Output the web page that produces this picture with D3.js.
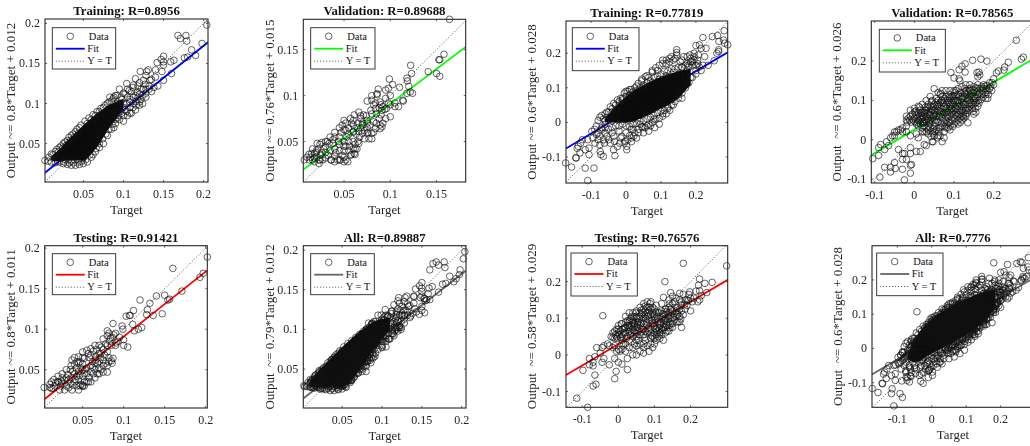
<!DOCTYPE html>
<html><head><meta charset="utf-8">
<script src="https://cdn.jsdelivr.net/npm/d3@7"></script>
<style>html,body{margin:0;padding:0;background:#fff;overflow:hidden}svg{display:block;filter:blur(0.35px)}text{font-family:"Liberation Serif","Times New Roman",serif}</style>
</head><body><svg id="c" width="1030" height="446"></svg>
<script>
const titles=["Training: R=0.8956","Validation: R=0.89688","Training: R=0.77819","Validation: R=0.78565","Testing: R=0.91421","All: R=0.89887","Testing: R=0.76576","All: R=0.7776"];
const yLabels=["Output ~= 0.8*Target + 0.012","Output ~= 0.76*Target + 0.015","Output ~= 0.6*Target + 0.028","Output  ~= 0.6*Target + 0.026","Output ~= 0.8*Target + 0.011","Output  ~= 0.79*Target + 0.012","Output  ~= 0.58*Target + 0.029","Output  ~= 0.6*Target + 0.028"];
const slopes=[0.8,0.76,0.6,0.6,0.8,0.79,0.58,0.6];
const intercepts=[0.012,0.015,0.028,0.026,0.011,0.012,0.029,0.028];
const fitColors=["#0000ff","#00ff00","#0000ff","#00ff00","#ff0000","#666666","#ff0000","#666666"];
const xTicks=[[0.05,0.1,0.15,0.2],[0.05,0.1,0.15],[-0.1,0,0.1,0.2],[-0.1,0,0.1,0.2],[0.05,0.1,0.15,0.2],[0.05,0.1,0.15,0.2],[-0.1,0,0.1,0.2],[-0.1,0,0.1,0.2]];
const yTicks=xTicks;
const xDomains=[[0.0021,0.2055],[0.006,0.1815],[-0.172,0.291],[-0.1086,0.3],[0.0037,0.202],[0.0012,0.2054],[-0.145,0.303],[-0.1735,0.297]];
const yDomains=[[0.0021,0.2055],[0.006,0.183],[-0.175,0.293],[-0.11,0.302],[0.0028,0.203],[0.001,0.2055],[-0.143,0.298],[-0.172,0.3]];

const train1=[[.204,.198],[.168,.185],[.171,.181],[.178,.185],[.179,.178],[.198,.175],[.185,.167],[.176,.157],[.18,.158],[.19,.16],[.15,.159],[.147,.155],[.15,.152],[.142,.151],[.159,.152],[.163,.154],[.15,.148],[.148,.14],[.16,.1375],[.15,.129],[.14,.142],[.131,.142],[.121,.14],[.129,.14],[.115,.131],[.133,.129],[.125,.129],[.14,.133],[.104,.125],[.1125,.123],[.12,.126],[.135,.13],[.128,.135],[.143,.122],[.135,.115],[.132,.122],[.125,.118],[.118,.122],[.11,.115],[.105,.118],[.1,.113],[.095,.118],[.088,.108],[.083,.108],[.09,.11],[.098,.105],[.105,.108],[.115,.11],[.122,.105],[.128,.108],[.108,.095],[.115,.092],[.105,.085],[.112,.1],[.098,.088],[.095,.08],[.09,.075],[.088,.07],[.085,.068],[.08,.06],[.075,.05],[.07,.045],[.065,.04],[.06,.033],[.055,.027],[.05,.025],[.045,.024],[.04,.023],[.035,.023],[.03,.024],[.025,.025],[.02,.027],[.015,.026],[.01,.027],[.006,.028],[.002,.029],[.007,.033],[.01,.037],[.015,.04],[.02,.045],[.025,.05],[.03,.054],[.035,.06],[.04,.065],[.045,.07],[.055,.075],[.06,.08],[.065,.085],[.07,.09],[.075,.095],[.08,.1],[.085,.103],[.092,.1],[.1,.1],[.102,.092],[.095,.095],[.09,.09],[.085,.085],[.08,.075],[.075,.07],[.078,.088],[.072,.082],[.068,.076],[.065,.062],[.07,.06],[.06,.055],[.058,.045],[.052,.04],[.05,.032],[.042,.03],[.035,.028],[.028,.03],[.02,.033],[.014,.032],[.108,.102],[.118,.108],[.11,.088],[.1,.078],[.128,.113],[.138,.12],[.12,.098],[.092,.082]];
const train1Dense=[[.012,.036],[.017,.043],[.022,.047],[.027,.052],[.032,.058],[.037,.062],[.042,.068],[.047,.073],[.052,.078],[.057,.082],[.062,.086],[.067,.09],[.072,.094],[.077,.098],[.082,.102],[.087,.106],[.092,.11],[.097,.108],[.102,.112],[.107,.116],[.112,.12],[.117,.114],[.122,.118],[.127,.124],[.132,.118],[.092,.095],[.096,.1],[.1,.095],[.104,.1],[.108,.105],[.112,.108],[.116,.103],[.12,.112],[.124,.11],[.128,.118],[.096,.09],[.1,.085],[.104,.09],[.108,.088],[.112,.095],[.116,.098],[.12,.102],[.124,.1],[.094,.085],[.09,.085],[.086,.08],[.088,.095],[.084,.095],[.062,.036],[.066,.044],[.07,.05],[.074,.056],[.078,.062],[.082,.068],[.086,.074],[.09,.08],[.018,.028],[.026,.027],[.032,.026],[.038,.026],[.044,.027],[.048,.028],[.053,.03],[.058,.036],[.063,.047],[.068,.052],[.073,.063],[.077,.075],[.071,.086],[.066,.08],[.061,.075],[.056,.07],[.05,.066],[.044,.063],[.039,.058],[.034,.054],[.029,.048],[.024,.044],[.019,.04]];
const valid1=[[.164,.183],[.158,.145],[.1525,.139],[.1535,.139],[.141,.126],[.15,.124],[.1535,.121],[.122,.133],[.123,.124],[.118,.119],[.1185,.116],[.099,.118],[.1025,.112],[.098,.108],[.095,.106],[.11,.109],[.12,.11],[.1215,.104],[.124,.1025],[.118,.1025],[.1135,.095],[.109,.088],[.105,.092],[.1,.077],[.087,.107],[.086,.101],[.0855,.102],[.08,.1],[.075,.094],[.08,.095],[.084,.092],[.089,.093],[.095,.097],[.098,.092],[.096,.086],[.091,.084],[.084,.086],[.079,.084],[.066,.082],[.061,.079],[.057,.075],[.05,.073],[.071,.079],[.068,.075],[.075,.073],[.082,.0715],[.089,.068],[.091,.066],[.089,.064],[.084,.064],[.08,.059],[.077,.053],[.08,.053],[.075,.059],[.07,.059],[.066,.061],[.063,.058],[.064,.042],[.062,.042],[.061,.037],[.057,.035],[.054,.028],[.046,.03],[.043,.03],[.04,.034],[.03,.032],[.023,.03],[.007,.03],[.0125,.03],[.018,.032],[.023,.026],[.01,.033],[.015,.037],[.02,.04],[.024,.047],[.03,.045],[.035,.055],[.04,.06],[.045,.055],[.05,.063],[.055,.065],[.06,.068],[.065,.07],[.07,.068],[.075,.065],[.05,.05],[.055,.05],[.06,.05],[.045,.047],[.05,.04],[.055,.04],[.06,.042],[.045,.04],[.04,.042],[.035,.04],[.03,.038],[.025,.035],[.02,.033],[.018,.037],[.014,.033],[.05,.033],[.045,.03],[.055,.058],[.045,.065],[.06,.061],[.038,.048],[.032,.05],[.026,.049],[.021,.048],[.027,.03],[.036,.03],[.016,.042],[.067,.055],[.072,.053],[.085,.08],[.09,.079],[.094,.085],[.1,.09],[.105,.088],[.114,.094],[.092,.07],[.068,.078],[.075,.07],[.08,.08],[.06,.073],[.052,.062]];
const valid1Dense=[[.012,.036],[.016,.03],[.02,.038],[.022,.042],[.026,.038],[.03,.05],[.033,.035],[.036,.03],[.038,.052],[.041,.038],[.044,.05],[.047,.06],[.048,.035],[.05,.045],[.052,.03],[.053,.055],[.056,.045],[.058,.036],[.06,.06],[.062,.047],[.064,.065],[.065,.05],[.068,.065],[.07,.07],[.072,.062],[.074,.078],[.076,.06],[.078,.068],[.082,.06],[.085,.07],[.088,.075],[.09,.09],[.092,.088],[.082,.09],[.088,.087],[.1,.1],[.095,.075],[.058,.07],[.052,.07],[.048,.068],[.04,.055],[.034,.048],[.028,.042],[.024,.03],[.018,.028],[.04,.028],[.05,.028],[.052,.045],[.062,.036],[.066,.048]];
const test1=[[.202,.189],[.16,.175],[.197,.169],[.193,.164],[.171,.147],[.15,.142],[.14,.141],[.132,.132],[.12,.136],[.129,.124],[.156,.137],[.154,.136],[.147,.119],[.128,.118],[.136,.117],[.112,.123],[.107,.117],[.103,.116],[.108,.117],[.111,.106],[.122,.102],[.118,.1],[.113,.098],[.098,.104],[.099,.1],[.087,.107],[.08,.098],[.08,.092],[.084,.089],[.075,.088],[.088,.093],[.1,.087],[.095,.09],[.091,.083],[.105,.078],[.1,.08],[.09,.08],[.085,.08],[.08,.08],[.075,.075],[.07,.08],[.065,.08],[.06,.076],[.055,.074],[.05,.072],[.045,.066],[.037,.062],[.05,.065],[.06,.068],[.07,.07],[.08,.072],[.087,.064],[.085,.061],[.082,.06],[.08,.055],[.075,.055],[.07,.06],[.065,.058],[.06,.055],[.05,.057],[.043,.06],[.04,.057],[.035,.05],[.03,.05],[.025,.045],[.02,.042],[.015,.038],[.012,.035],[.01,.032],[.012,.027],[.003,.028],[.01,.028],[.016,.03],[.022,.025],[.037,.025],[.045,.025],[.05,.03],[.048,.032],[.052,.035],[.06,.035],[.065,.04],[.07,.045],[.075,.047],[.065,.05],[.06,.048],[.055,.045],[.05,.042],[.045,.038],[.04,.035],[.035,.033],[.03,.03],[.025,.033],[.02,.035],[.025,.04],[.03,.04],[.04,.045],[.045,.048],[.055,.052],[.033,.038],[.038,.031],[.07,.052],[.08,.047],[.075,.062],[.066,.066],[.072,.065]];
const test1Dense=[[.02,.035],[.023,.03],[.028,.037],[.032,.044],[.036,.04],[.042,.052],[.047,.06],[.052,.064],[.057,.07],[.062,.06],[.067,.075],[.072,.07],[.077,.068],[.082,.065],[.086,.058],[.078,.058],[.072,.05],[.068,.045],[.063,.045],[.058,.04],[.053,.05],[.048,.052],[.043,.042],[.038,.048],[.033,.028],[.028,.025],[.043,.03],[.047,.03],[.05,.03],[.052,.03],[.055,.035],[.062,.053],[.066,.062],[.05,.05],[.04,.065],[.045,.058],[.058,.065],[.063,.073],[.068,.058],[.073,.078],[.078,.082],[.083,.085],[.09,.095],[.093,.085],[.086,.09],[.082,.095],[.052,.045],[.057,.035],[.024,.036],[.017,.034],[.014,.027],[.046,.043],[.036,.055],[.041,.038]];
const train2=[[-.173,-.117],[-.156,-.129],[-.117,-.132],[-.092,-.132],[-.11,-.168],[-.143,-.103],[-.144,-.102],[-.137,-.069],[-.132,-.088],[-.117,-.079],[-.106,-.074],[-.106,-.093],[-.089,-.06],[-.098,-.026],[-.072,-.093],[-.065,-.098],[-.074,-.084],[-.036,-.079],[-.032,-.096],[-.062,-.06],[-.05,-.05],[-.033,-.055],[.002,-.079],[.002,-.069],[.016,-.055],[-.003,-.055],[-.018,-.06],[-.012,-.04],[.022,-.04],[.03,-.045],[.01,-.038],[.035,-.03],[.05,-.03],[.065,-.025],[.048,-.015],[.07,-.01],[.082,-.015],[.095,-.005],[-.13,-.06],[-.125,-.05],[-.14,-.075],[-.11,-.05],[-.085,-.035],[-.07,-.02],[-.06,-.005],[-.055,.015],[-.04,.03],[-.03,.035],[-.02,.05],[-.01,.07],[0,.09],[.01,.095],[.03,.105],[.045,.12],[.06,.135],[.075,.145],[.09,.15],[.105,.18],[.115,.17],[.13,.19],[.145,.21],[.145,.202],[.125,.175],[.14,.185],[.16,.18],[.175,.19],[.185,.185],[.195,.2],[.281,.265],[.262,.251],[.247,.248],[.22,.245],[.266,.234],[.279,.238],[.291,.224],[.282,.229],[.265,.21],[.265,.205],[.26,.2],[.252,.178],[.229,.214],[.215,.214],[.2,.222],[.21,.224],[.207,.195],[.183,.195],[.195,.19],[.225,.19],[.22,.165],[.235,.165],[.215,.15],[.205,.17],[.2,.15],[.19,.165],[.185,.13],[.175,.11],[.16,.07],[.15,.08],[.135,.05],[.12,.04],[.105,.025],[.08,.01],[.06,-.01],[.04,-.005],[.02,-.02],[0,-.03],[-.02,-.025],[-.04,-.03],[-.06,-.03],[-.08,-.05],[-.095,-.045],[-.075,-.065],[.015,-.02],[.12,.13],[.16,.16],[.17,.12],[.18,.16],[.17,.14],[.145,.1],[.135,.075]];
const train2Dense=[[-.08,.005],[-.075,.015],[-.07,.02],[-.065,.01],[-.06,.025],[-.055,.03],[-.05,.03],[-.045,.045],[-.04,.04],[-.035,.055],[-.03,.05],[-.025,.065],[-.02,.06],[-.015,.07],[-.01,.065],[-.005,.085],[0,.075],[.005,.09],[.01,.08],[.015,.095],[.02,.088],[.025,.1],[.03,.092],[.035,.113],[.04,.1],[.045,.125],[.05,.108],[.055,.132],[.06,.115],[.065,.13],[.07,.12],[.075,.15],[.08,.13],[.085,.158],[.09,.135],[.095,.165],[.1,.14],[.105,.17],[.11,.148],[.115,.18],[.12,.15],[.125,.185],[.13,.155],[.135,.18],[.14,.155],[.145,.195],[.15,.16],[.155,.175],[.16,.16],[.165,.19],[.17,.165],[.175,.17],[.18,.165],[.185,.175],[.19,.175],[.195,.18],[.2,.165],[.205,.18],[-.09,-.02],[-.085,-.01],[-.08,-.03],[-.075,-.04],[-.07,-.015],[-.065,-.05],[-.06,-.015],[-.055,-.04],[-.05,-.02],[-.045,-.06],[-.04,-.015],[-.035,-.04],[-.03,-.01],[-.025,-.07],[-.02,-.01],[-.015,-.045],[-.01,-.005],[-.005,-.06],[0,-.01],[.005,-.05],[.01,-.012],[.015,-.045],[.02,-.005],[.025,-.03],[.03,-.002],[.035,-.02],[.04,.003],[.045,-.012],[.05,.005],[.055,-.015],[.06,.01],[.065,-.005],[.07,.015],[.075,0],[.08,.02],[.085,.008],[.09,.028],[.095,.012],[.1,.032],[.105,.018],[.11,.035],[.115,.025],[.12,.045],[.125,.035],[.13,.05],[.14,.06],[.15,.07],[.16,.085],[.17,.1],[.18,.115],[.19,.13],[.2,.14],[.21,.16],[-.06,.005],[-.05,.01],[-.04,.005],[-.03,.02],[-.02,.015],[-.01,.03],[.02,.01],[.04,.02],[.06,.03],[.08,.04],[.1,.055],[.12,.065],[.14,.08],[.16,.1],[.17,.125],[.155,.14],[.135,.145],[.115,.135],[.095,.125],[.075,.115],[.055,.105],[.035,.09],[.015,.075]];
const valid2=[[.257,.253],[.27,.205],[.275,.21],[.228,.185],[.237,.197],[.226,.177],[.212,.175],[.207,.17],[.2,.155],[.183,.2],[.168,.205],[.147,.202],[.128,.193],[.12,.187],[.092,.171],[.113,.178],[.128,.172],[.158,.171],[.163,.172],[.165,.165],[.16,.16],[.1,.157],[.113,.155],[.115,.15],[.13,.14],[.14,.14],[.15,.135],[.16,.14],[.175,.14],[.19,.145],[.2,.14],[.195,.125],[.185,.125],[.18,.115],[.185,.105],[.17,.115],[.16,.115],[.15,.125],[.14,.125],[.13,.125],[.12,.135],[.11,.13],[.1,.125],[.09,.125],[.08,.125],[.07,.125],[.06,.12],[.05,.13],[.04,.11],[.03,.1],[.02,.09],[.01,.085],[0,.08],[-.01,.06],[-.02,.05],[.01,.065],[.02,.07],[.03,.075],[.04,.085],[.05,.09],[.06,.1],[.07,.11],[.08,.11],[.09,.105],[.1,.11],[.11,.115],[.12,.11],[.13,.105],[.14,.1],[.15,.1],[.16,.085],[.155,.07],[.15,.065],[.135,.08],[.13,.06],[.125,.09],[.11,.085],[.1,.09],[.09,.085],[.08,.09],[.07,.095],[.06,.085],[.05,.075],[.04,.07],[.03,.06],[.02,.055],[.01,.05],[0,.055],[.015,.04],[.025,.045],[.035,.05],[.045,.055],[.055,.06],[.065,.065],[.075,.07],[.085,.07],[.095,.065],[.105,.07],[.115,.065],[.125,.07],[.135,.043],[.11,.05],[.1,.055],[.09,.045],[.08,.05],[.07,.055],[.06,.045],[.05,.035],[.04,.03],[.03,.03],[.02,.02],[.08,.03],[.09,.025],[.075,.02],[.065,.01],[.07,-.005],[.075,.005],[.06,.01],[.047,.015],[.047,-.005],[.045,-.005],[.03,-.015],[.025,-.012],[.015,-.03],[.005,-.03],[-.01,-.02],[-.01,-.035],[-.025,-.035],[-.03,-.035],[-.04,-.025],[-.03,-.05],[-.02,-.05],[-.01,-.065],[-.007,-.063],[-.05,-.058],[-.06,-.07],[-.075,-.07],[-.048,-.073],[-.03,-.075],[-.06,-.082],[-.01,-.085],[-.087,-.095],[-.025,-.102],[-.105,-.048],[-.09,-.04],[-.09,-.02],[-.085,-.012],[-.075,-.025],[-.065,-.015],[-.07,-.005],[-.06,.005],[-.05,.01],[-.045,.02],[-.04,.025],[-.03,.03],[-.02,.02],[-.01,.01],[.005,.015],[.01,.005],[.02,.03],[.03,.02],[.04,.04],[.05,.05],[.015,.075],[.025,.065],[.035,.09],[.045,.1],[.055,.105],[.065,.115],[.105,.125],[.075,.1],[.085,.095],[.095,.095],[.1,.075],[.11,.1],[.12,.095],[.13,.09],[.14,.085],[.15,.09],[.1,.04],[.09,.06],[.12,.05]];
const valid2Dense=[[-.02,.06],[-.018,.045],[-.015,.055],[-.012,.05],[-.008,.045],[-.005,.065],[-.003,.05],[.002,.045],[.004,.062],[.007,.055],[.009,.07],[.012,.048],[.014,.06],[.017,.052],[.019,.068],[.022,.042],[.024,.058],[.027,.075],[.029,.05],[.032,.068],[.034,.055],[.037,.08],[.039,.045],[.042,.062],[.044,.075],[.047,.085],[.049,.06],[.052,.07],[.054,.095],[.057,.05],[.059,.075],[.062,.09],[.064,.06],[.067,.08],[.069,.1],[.072,.065],[.074,.085],[.077,.105],[.079,.06],[.082,.08],[.084,.1],[.087,.115],[.089,.075],[.092,.09],[.094,.11],[.097,.07],[.099,.1],[.102,.12],[.104,.08],[.107,.06],[.109,.095],[.112,.11],[.114,.075],[.117,.12],[.119,.085],[.122,.105],[.124,.06],[.127,.13],[.129,.08],[.132,.115],[.134,.1],[.137,.075],[.139,.13],[.142,.095],[.144,.11],[.147,.08],[.149,.12],[.152,.105],[.154,.08],[.157,.095],[.159,.13],[.162,.1],[.167,.13],[.172,.125],[.178,.12],[.182,.13],[.187,.115],[.192,.135],[.196,.145],[-.01,.075],[0,.07],[.005,.04],[.01,.035],[.02,.045],[.025,.07],[.03,.045],[.035,.035],[.04,.05],[.045,.075],[.05,.065],[.055,.08],[.06,.06],[.065,.095],[.07,.07],[.075,.045],[.08,.07],[.085,.055],[.09,.095],[.095,.08],[.1,.1],[.105,.1],[.11,.065],[.115,.085],[.12,.075],[.125,.11],[.13,.075],[.135,.105],[.14,.11],[.145,.09],[.15,.11],[.155,.105],[.16,.11],[.165,.12],[.17,.135],[.175,.13],[.18,.105],[.19,.13],[.025,.02],[.035,.015],[.045,.02],[.05,.01],[.055,.025],[.06,.03],[.065,.03],[.07,.035],[.08,.04],[.085,.03],[.09,.035],[.095,.05],[.105,.045],[.11,.04],[.115,.055],[.12,.06],[.125,.055],[.13,.065],[.035,.025],[.042,.008],[.052,.022],[.058,.005],[.062,.02],[-.02,.035],[-.03,.02],[-.035,.025],[-.05,.02],[-.055,.01]];
const valid2Loose=[[.003,.073],[.013,.083],[.023,.036],[.033,.083],[.043,.097],[.053,.043],[.063,.073],[.073,.093],[.083,.063],[.093,.078],[.103,.063],[.113,.093],[.123,.083],[.133,.068],[.143,.118],[.153,.093],[.163,.093],[.173,.108],[.183,.138],[.038,.064],[.048,.028],[.058,.088],[.068,.042],[.078,.078],[.088,.108],[.098,.112],[.108,.078],[.118,.102],[.128,.117],[.138,.092],[.148,.072],[.158,.122],[.168,.102],[.178,.136],[.008,.044],[.018,.062],[.028,.083],[.067,.118],[.077,.034],[.087,.043],[.097,.034],[.106,.114],[.116,.044],[.126,.122],[.136,.122],[.146,.128],[.156,.132]];
const test2=[[.18,.25],[.3,.243],[.129,.2],[-.043,.107],[.26,.198],[.225,.207],[.222,.19],[.24,.195],[.225,.175],[.215,.174],[.198,.172],[.245,.17],[.23,.162],[.225,.15],[.22,.145],[.2,.155],[.195,.165],[.18,.165],[.17,.168],[.145,.17],[.15,.16],[.125,.157],[.14,.15],[.16,.155],[.175,.145],[.19,.135],[.185,.125],[.17,.125],[.16,.13],[.15,.12],[.14,.13],[.13,.125],[.12,.14],[.11,.115],[.09,.145],[.08,.145],[.07,.14],[.085,.13],[.1,.125],[.075,.12],[.06,.13],[.05,.12],[.04,.115],[.03,.115],[.02,.105],[.01,.085],[0,.07],[-.01,.065],[-.005,.05],[-.015,.048],[-.01,.045],[0,.06],[.01,.05],[.02,.075],[.03,.09],[.04,.09],[.05,.1],[.06,.105],[.07,.1],[.08,.105],[.09,.11],[.1,.105],[.11,.1],[.12,.1],[.13,.095],[.14,.1],[.15,.1],[.16,.105],[.17,.105],[.175,.075],[.15,.085],[.14,.08],[.13,.06],[.135,.065],[.12,.07],[.11,.075],[.1,.08],[.09,.085],[.08,.08],[.07,.085],[.06,.08],[.05,.075],[.04,.07],[.03,.065],[.02,.06],[.01,.04],[.03,.04],[.05,.05],[.07,.055],[.09,.06],[.11,.05],[.125,.04],[.1,.03],[.09,.045],[.085,.01],[.07,.03],[.06,.01],[.05,.025],[.03,.02],[.02,.01],[.01,.015],[0,.015],[-.01,.025],[-.02,.05],[-.03,.03],[-.04,.025],[-.045,.02],[-.05,.005],[-.06,.02],[-.04,-.01],[-.045,-.02],[-.065,-.005],[-.07,-.02],[-.08,-.01],[-.08,-.027],[-.07,-.03],[-.025,-.027],[-.01,-.01],[0,-.02],[.01,-.025],[.025,-.04],[.025,-.01],[.04,0],[.05,0],[-.098,-.042],[-.065,-.055],[-.006,-.045],[-.01,-.065],[-.062,-.08],[-.07,-.085],[-.115,-.118],[-.085,-.143],[.07,.005],[.045,.03],[.115,.06],[.13,.1],[.105,.135],[.095,.13],[.085,.12],[.065,.11],[.045,.085]];
const test2Dense=[[-.005,.07],[0,.08],[.005,.065],[.01,.07],[.015,.06],[.02,.09],[.025,.08],[.03,.075],[.035,.1],[.04,.095],[.045,.08],[.05,.105],[.055,.09],[.06,.115],[.065,.09],[.07,.125],[.075,.1],[.08,.13],[.085,.095],[.09,.125],[.095,.115],[.1,.11],[.105,.07],[.11,.09],[.115,.08],[.12,.12],[.125,.085],[.13,.11],[.135,.09],[.14,.115],[.145,.125],[.15,.14],[.155,.145],[.16,.12],[.165,.09],[.17,.15],[.175,.12],[.18,.11],[.185,.15],[.19,.15],[.2,.12],[.205,.145],[.21,.155],[.035,.06],[.04,.05],[.045,.06],[.05,.06],[.055,.065],[.06,.055],[.065,.07],[.07,.07],[.075,.065],[.08,.06],[.085,.065],[.09,.07],[.095,.05],[.1,.06],[.105,.055],[.11,.065],[.115,.045],[.12,.055],[.125,.075],[.13,.075],[.135,.08],[.14,.065],[.145,.085],[.15,.075],[.155,.095],[.16,.09],[.165,.11],[.17,.09],[.03,.08],[.025,.05],[.02,.03],[.015,.03],[.01,.03],[.005,.01],[-.005,.01],[-.015,.02],[-.025,.025],[.04,.02],[.05,.04],[.055,.04],[.06,.03],[.07,.02],[.075,.04],[.08,.025],[.09,.03],[.095,.02],[.1,.045],[.105,.04],[.115,.06],[-.015,.06],[-.008,.055],[-.003,.045],[.003,.055],[.008,.085],[.012,.055],[.018,.075],[.022,.045],[.028,.07],[.032,.095],[.038,.105],[.042,.085],[.048,.115],[.052,.075],[.058,.1],[.062,.085],[.068,.115],[.072,.11],[.078,.09],[.082,.115],[.088,.14],[.092,.095],[.098,.085],[.102,.095],[.108,.105],[.112,.115],[.118,.09],[.122,.105],[.128,.095],[.132,.125],[.138,.105],[.142,.14]];
const test2Loose=[[.006,.048],[.016,.072],[.026,.094],[.036,.078],[.044,.104],[.054,.083],[.064,.122],[.074,.133],[.084,.107],[.094,.088],[.104,.116],[.114,.072],[.124,.112],[.134,.118],[.144,.108],[.154,.112],[.164,.128],[.174,.136],[.184,.138],[.194,.148],[.033,.054],[.043,.066],[.053,.088],[.063,.063],[.073,.048],[.083,.072],[.093,.052],[.103,.072],[.113,.084],[.123,.066],[.133,.084],[.143,.074],[.153,.103],[.163,.116],[.173,.098]];

// Fully overplotted centres, where single markers can no longer be read: x, lower y, upper y
const coreTrain1=[[.01,.029,.034],[.02,.028,.043],[.03,.029,.054],[.04,.029,.063],[.05,.029,.073],[.06,.037,.082],[.07,.05,.09],[.08,.066,.097],[.09,.08,.102],[.1,.094,.106]];
const coreAll1=[[.01,.028,.036],[.02,.027,.047],[.03,.027,.058],[.04,.028,.068],[.05,.028,.078],[.06,.034,.087],[.07,.047,.096],[.08,.06,.103],[.09,.075,.11],[.1,.088,.113],[.11,.1,.115]];
const coreTrain2=[[-.06,0,.012],[-.04,0,.035],[0,-.001,.075],[.05,.015,.108],[.1,.04,.132],[.15,.07,.148],[.185,.11,.155]];
const coreAll2=[[-.07,-.03,-.02],[-.05,-.04,.025],[0,-.015,.085],[.05,.012,.12],[.1,.042,.145],[.15,.078,.165],[.185,.12,.172]];

const pointSets=[[...train1,...train1Dense],[...valid1,...valid1Dense],[...train2,...train2Dense],[...valid2,...valid2Dense,...valid2Loose],[...test1,...test1Dense],[...train1,...train1Dense,...valid1,...valid1Dense,...test1,...test1Dense],[...test2,...test2Dense,...test2Loose],[...train2,...train2Dense,...valid2,...valid2Dense,...test2,...test2Dense]];
const coreSets=[coreTrain1,[],coreTrain2,[],[],coreAll1,[],coreAll2];

const boxes=[[45,19,163,163],[303.3,19.3,162.4,162.7],[566,21,161.7,162],[871.3,21,162,162],[44.7,245.7,162.6,162.3],[303.3,245.7,162.7,162.3],[566,245.7,161.7,161.6],[872,245.7,162,161.6]];
const legends=[[52.3,27.7,63.4,41.3],[310.7,27.7,64.3,41.3],[572.3,27.7,66.7,43],[879.3,29.3,66,42.7],[52.3,253.7,63.4,41],[310.7,253.7,63.6,41],[571,253,66.3,43],[876.7,253,66.3,42.7]];
const yLabelX=[10.7,269.3,531.7,836.7,10.7,269.3,531.7,837.3];
const ink="#262626";
const svg=d3.select("#c");
titles.forEach((title,i)=>{
  const [bx,by,bw,bh]=boxes[i];
  const g=svg.append("g");
  const x=d3.scaleLinear().domain(xDomains[i]).range([bx,bx+bw]);
  const y=d3.scaleLinear().domain(yDomains[i]).range([by+bh,by]);
  const clipId="clip"+i;
  g.append("clipPath").attr("id",clipId).append("rect").attr("x",bx).attr("y",by).attr("width",bw).attr("height",bh);
  const lo=Math.max(xDomains[i][0],yDomains[i][0]),hi=Math.min(xDomains[i][1],yDomains[i][1]);
  const plot=g.append("g").attr("clip-path",`url(#${clipId})`);
  plot.append("line").attr("x1",x(lo)).attr("y1",y(lo)).attr("x2",x(hi)).attr("y2",y(hi)).attr("stroke","#222").attr("stroke-width",.8).attr("stroke-dasharray","1 2");
  const f=v=>slopes[i]*v+intercepts[i];
  const [x0,x1]=xDomains[i];
  plot.append("line").attr("x1",x(x0)).attr("y1",y(f(x0))).attr("x2",x(x1)).attr("y2",y(f(x1))).attr("stroke",fitColors[i]).attr("stroke-width",1.8);
  if(coreSets[i].length){
    g.append("path").attr("fill","#0a0a0a").attr("d",d3.area().x(d=>x(d[0])).y0(d=>y(d[1])).y1(d=>y(d[2])).curve(d3.curveMonotoneX)(coreSets[i]));
  }
  g.append("g").selectAll("circle").data(pointSets[i]).join("circle")
    .attr("cx",d=>x(d[0])).attr("cy",d=>y(d[1])).attr("r",3.3).attr("fill","none").attr("stroke","#111").attr("stroke-width",.65);
  g.append("rect").attr("x",bx).attr("y",by).attr("width",bw).attr("height",bh).attr("fill","none").attr("stroke",ink).attr("stroke-width",1.1);
  const ax=g.append("g");
  xTicks[i].forEach(t=>{
    ax.append("line").attr("x1",x(t)).attr("x2",x(t)).attr("y1",by+bh).attr("y2",by+bh-2).attr("stroke",ink).attr("stroke-width",.7);
    ax.append("line").attr("x1",x(t)).attr("x2",x(t)).attr("y1",by).attr("y2",by+2).attr("stroke",ink).attr("stroke-width",.7);
    ax.append("text").attr("x",x(t)).attr("y",by+bh+15.5).attr("text-anchor","middle").attr("font-size",12).attr("fill",ink).text(t);
  });
  yTicks[i].forEach(t=>{
    if(y(t)<by-.5||y(t)>by+bh+.5) return;
    ax.append("line").attr("x1",bx).attr("x2",bx+2).attr("y1",y(t)).attr("y2",y(t)).attr("stroke",ink).attr("stroke-width",.7);
    ax.append("line").attr("x1",bx+bw).attr("x2",bx+bw-2).attr("y1",y(t)).attr("y2",y(t)).attr("stroke",ink).attr("stroke-width",.7);
    ax.append("text").attr("x",bx-5).attr("y",y(t)+4).attr("text-anchor","end").attr("font-size",12).attr("fill",ink).text(t);
  });
  g.append("text").attr("x",bx+bw/2).attr("y",by-4).attr("text-anchor","middle").attr("font-size",12.8).attr("font-weight","bold").attr("fill","#111").text(title);
  g.append("text").attr("x",bx+bw/2).attr("y",by+bh+32).attr("text-anchor","middle").attr("font-size",12.8).attr("fill",ink).text("Target");
  g.append("text").attr("transform",`translate(${yLabelX[i]+4.5},${by+bh/2}) rotate(-90)`).attr("text-anchor","middle").attr("font-size",13).attr("fill",ink).style("white-space","pre").text(yLabels[i]);
  const [lx,ly,lw,lh]=legends[i];
  const lg=g.append("g");
  lg.append("rect").attr("x",lx).attr("y",ly).attr("width",lw).attr("height",lh).attr("fill","#fff").attr("stroke",ink).attr("stroke-width",.9);
  const rowY=[ly+8.6,ly+21,ly+33.5];
  const sx0=lx+3.5,sx1=lx+32.5,tx=lx+35;
  lg.append("circle").attr("cx",(sx0+sx1)/2).attr("cy",rowY[0]).attr("r",3.3).attr("fill","none").attr("stroke","#111").attr("stroke-width",.65);
  lg.append("line").attr("x1",sx0).attr("x2",sx1).attr("y1",rowY[1]).attr("y2",rowY[1]).attr("stroke",fitColors[i]).attr("stroke-width",1.8);
  lg.append("line").attr("x1",sx0).attr("x2",sx1).attr("y1",rowY[2]).attr("y2",rowY[2]).attr("stroke","#222").attr("stroke-width",.8).attr("stroke-dasharray","1 2");
  ["Data","Fit","Y = T"].forEach((s,k)=>{
    lg.append("text").attr("x",k===0?tx+1.5:tx).attr("y",rowY[k]+3.2).attr("font-size",10.5).attr("fill","#111").text(s);
  });
});
</script></body></html>
